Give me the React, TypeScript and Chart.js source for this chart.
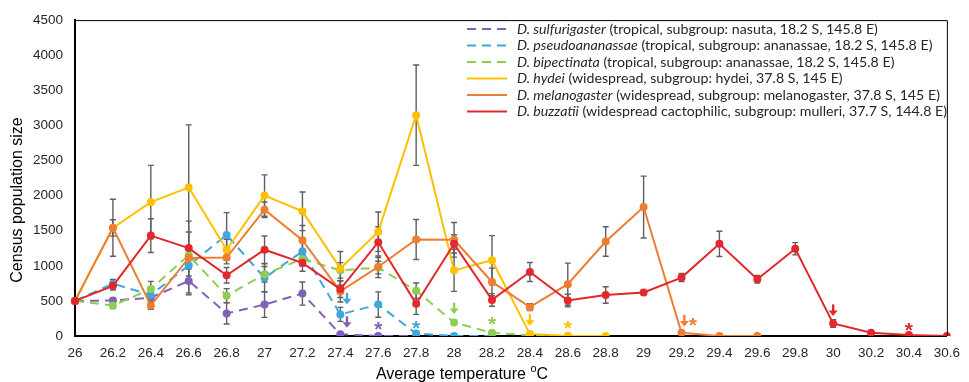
import React, { useEffect, useRef } from "react";
import { Chart, registerables } from "chart.js";

Chart.register(...registerables);

// ---------- DATA ----------
const temperatures = [
  "26", "26.2", "26.4", "26.6", "26.8", "27", "27.2", "27.4", "27.6", "27.8",
  "28", "28.2", "28.4", "28.6", "28.8", "29", "29.2", "29.4", "29.6", "29.8",
  "30", "30.2", "30.4", "30.6",
];

const sulfurigaster = [500, 505, 545, 785, 322, 448, 605, 25, 0, 0];
const pseudoananassae = [500, 745, 585, 1005, 1440, 828, 1206, 308, 448, 35, 0, 0];
const bipectinata = [500, 435, 668, 1150, 575, 879, 1098, 935, 975, 645, 192, 47, 10, 0];
const hydei = [500, 1540, 1907, 2117, 1229, 2000, 1776, 963, 1486, 3145, 935, 1080, 30, 0, 0];
const melanogaster = [500, 1542, 435, 1112, 1117, 1799, 1364, 635, 986, 1374, 1370, 771, 411, 738, 1346, 1837, 47, 0, 0];
const buzzatii = [500, 715, 1430, 1252, 865, 1229, 1042, 668, 1337, 458, 1313, 514, 911, 505, 584, 621, 832, 1313, 808, 1243, 178, 47, 14, 0];

// symmetric error (± value), null = no bar
const errSulfurigaster = [null, 40, 60, 170, 150, 183, 165, null, null, null];
const errPseudoananassae = [null, 60, 60, 150, 317, 200, 140, 100, 180, null, null, null];
const errBipectinata = [null, 45, 110, 130, 100, 110, 100, 110, 90, 110, null, null, null, null];
const errHydei = [null, 117, 523, 890, 150, 295, 275, 240, 280, 715, 300, 350, null, null, null];
const errMelanogaster = [null, 405, 55, 525, 90, 110, 210, 150, 154, 285, 247, 196, 50, 300, 210, 440, null, null, null];
const errBuzzatii = [null, 60, 240, 230, 110, 195, 120, 120, 220, 150, 130, 90, 135, 90, 117, null, 58, 180, 55, 87, 55, null, null, null];

const speciesNames = [
  "D. sulfurigaster",
  "D. pseudoananassae",
  "D. bipectinata",
  "D. hydei",
  "D. melanogaster",
  "D. buzzatii",
];
const speciesInfo = [
  " (tropical, subgroup: nasuta, 18.2 S, 145.8 E)",
  " (tropical, subgroup: ananassae, 18.2 S, 145.8 E)",
  " (tropical, subgroup: ananassae, 18.2 S, 145.8 E)",
  " (widespread, subgroup: hydei, 37.8 S, 145 E)",
  " (widespread, subgroup: melanogaster, 37.8 S, 145 E)",
  " (widespread cactophilic, subgroup: mulleri, 37.7 S, 144.8 E)",
];

// annotation symbols: temperature, value, symbol, series index
const markerTemps = [27.435, 27.435, 27.6, 27.8, 28.0, 28.2, 28.4, 28.6, 29.215, 29.26, 30.0, 30.4];
const markerValues = [530, 195, 135, 155, 390, 210, 225, 150, 215, 195, 365, 125];
const markerSymbols = ["arrow", "arrow", "*", "*", "arrow", "*", "arrow", "*", "arrow", "*", "arrow", "*"];
const markerSeries = [1, 0, 0, 1, 2, 2, 3, 3, 4, 4, 5, 5];

const yTicks = [0, 500, 1000, 1500, 2000, 2500, 3000, 3500, 4000, 4500];

// ---------- STYLE ----------
const seriesValues = [sulfurigaster, pseudoananassae, bipectinata, hydei, melanogaster, buzzatii];
const seriesErrors = [errSulfurigaster, errPseudoananassae, errBipectinata, errHydei, errMelanogaster, errBuzzatii];
const colors = ["#7f62b8", "#3fa7dc", "#8fcd50", "#ffc000", "#ed7d31", "#e3272b"];
const dashed = [true, true, true, false, false, false];
const FONT = "'Liberation Sans', Arial, sans-serif";

const pad = (arr: (number | null)[]) => {
  const out: (number | null)[] = [];
  for (let i = 0; i < temperatures.length; i++) out.push(i < arr.length ? arr[i] : null);
  return out;
};

const errorBarPlugin = {
  id: "errorBars",
  beforeDatasetsDraw(chart: any) {
    const { ctx, scales } = chart;
    const xs = scales.x;
    const ys = scales.y;
    ctx.save();
    ctx.strokeStyle = "#5f5f5f";
    ctx.lineWidth = 1.4;
    seriesErrors.forEach((errs, si) => {
      const vals = seriesValues[si];
      errs.forEach((e, i) => {
        if (e == null || vals[i] == null) return;
        const x = xs.getPixelForValue(i);
        const yTop = ys.getPixelForValue(vals[i] + e);
        const yBot = ys.getPixelForValue(Math.max(0, vals[i] - e));
        ctx.beginPath();
        ctx.moveTo(x, yTop);
        ctx.lineTo(x, yBot);
        ctx.moveTo(x - 3, yTop);
        ctx.lineTo(x + 3, yTop);
        ctx.moveTo(x - 3, yBot);
        ctx.lineTo(x + 3, yBot);
        ctx.stroke();
      });
    });
    ctx.restore();
  },
};

const decorPlugin = {
  id: "decor",
  afterDatasetsDraw(chart: any) {
    const { ctx, scales } = chart;
    const xs = scales.x;
    const ys = scales.y;
    ctx.save();
    markerTemps.forEach((t, k) => {
      const idx = (t - 26) / 0.2;
      const x = xs.getPixelForValue(idx);
      const y = ys.getPixelForValue(markerValues[k]);
      const c = colors[markerSeries[k]];
      ctx.fillStyle = c;
      if (markerSymbols[k] === "*") {
        ctx.textAlign = "center";
        ctx.textBaseline = "middle";
        ctx.font = "bold 21px " + FONT;
        ctx.fillText("*", x, y + 4);
      } else {
        // down arrow: shaft + triangular head
        ctx.fillRect(x - 1.2, y - 6, 2.4, 7);
        ctx.beginPath();
        ctx.moveTo(x - 4.5, y);
        ctx.lineTo(x + 4.5, y);
        ctx.lineTo(x, y + 5.5);
        ctx.closePath();
        ctx.fill();
      }
    });
    ctx.restore();
  },
  afterDraw(chart: any) {
    const { ctx, chartArea } = chart;
    ctx.save();
    // frame top/right
    ctx.strokeStyle = "#000";
    ctx.lineWidth = 1;
    ctx.beginPath();
    ctx.moveTo(chartArea.left, chartArea.top + 0.5);
    ctx.lineTo(chartArea.right + 0.5, chartArea.top + 0.5);
    ctx.lineTo(chartArea.right + 0.5, chartArea.bottom);
    ctx.stroke();

    // legend
    const lx0 = 467;
    const lx1 = 507;
    const tx = 517;
    const rowY = [29, 45.5, 62, 78.5, 95, 111.5];
    speciesNames.forEach((name, i) => {
      const y = rowY[i];
      ctx.strokeStyle = colors[i];
      ctx.lineWidth = 2;
      ctx.setLineDash(dashed[i] ? [9, 6] : []);
      ctx.beginPath();
      ctx.moveTo(lx0, y);
      ctx.lineTo(lx1, y);
      ctx.stroke();
      ctx.setLineDash([]);
      ctx.fillStyle = "#262626";
      ctx.textAlign = "left";
      ctx.textBaseline = "middle";
      ctx.font = "italic 14.2px Lato, sans-serif";
      ctx.fillText(name, tx, y);
      const w = ctx.measureText(name).width;
      ctx.font = "14.2px Lato, sans-serif";
      ctx.fillText(speciesInfo[i], tx + w, y);
    });

    // y axis title
    ctx.fillStyle = "#000";
    ctx.font = "16px " + FONT;
    ctx.textAlign = "center";
    ctx.textBaseline = "middle";
    ctx.save();
    ctx.translate(18, 200);
    ctx.rotate(-Math.PI / 2);
    ctx.fillText("Census population size", 0, 0);
    ctx.restore();

    // x axis title with superscript o
    const main = "Average temperature ";
    ctx.font = "16px " + FONT;
    const wMain = ctx.measureText(main).width;
    ctx.font = "11px " + FONT;
    const wSup = ctx.measureText("o").width;
    ctx.font = "16px " + FONT;
    const wC = ctx.measureText("C").width;
    const total = wMain + wSup + wC;
    let x = 462 - total / 2;
    const yT = 375;
    ctx.textAlign = "left";
    ctx.fillText(main, x, yT);
    x += wMain;
    ctx.font = "11px " + FONT;
    ctx.fillText("o", x, yT - 6);
    x += wSup;
    ctx.font = "16px " + FONT;
    ctx.fillText("C", x, yT);
    ctx.restore();
  },
};

export default function App() {
  const canvasRef = useRef<HTMLCanvasElement | null>(null);

  useEffect(() => {
    document.body.style.margin = "0";
    const canvas = canvasRef.current;
    if (!canvas) return;
    const datasets = seriesValues.map((vals, i) => ({
      label: speciesNames[i],
      data: pad(vals),
      borderColor: colors[i],
      backgroundColor: colors[i],
      pointBackgroundColor: colors[i],
      pointBorderColor: colors[i],
      pointBorderWidth: 0,
      pointRadius: 4,
      borderWidth: 2,
      borderDash: dashed[i] ? [9, 6] : [],
      tension: 0,
      spanGaps: false,
      order: 6 - i,
    }));
    const chart = new Chart(canvas, {
      type: "line",
      data: { labels: temperatures, datasets },
      options: {
        animation: false,
        responsive: true,
        maintainAspectRatio: false,
        events: [],
        layout: { padding: { top: 15, right: 14, left: 0, bottom: 0 } },
        plugins: { legend: { display: false }, tooltip: { enabled: false } },
        scales: {
          x: {
            type: "category",
            offset: false,
            grid: { display: false, drawTicks: false },
            border: { display: true, color: "#000", width: 2 },
            ticks: {
              color: "#262626",
              font: { family: FONT, size: 13.5 },
              padding: 9,
              maxRotation: 0,
              autoSkip: false,
            },
            afterFit: (s: any) => {
              s.height = 46;
            },
          },
          y: {
            min: 0,
            max: 4500,
            afterBuildTicks: (s: any) => {
              s.ticks = yTicks.map((v) => ({ value: v }));
            },
            grid: { display: false, drawTicks: false },
            border: { display: true, color: "#000", width: 2 },
            ticks: {
              color: "#262626",
              font: { family: FONT, size: 13.5 },
              padding: 12,
              callback: (v: any) => String(v),
            },
            afterFit: (s: any) => {
              s.width = 75;
            },
          },
        },
      },
      plugins: [errorBarPlugin, decorPlugin],
    });
    return () => chart.destroy();
  }, []);

  return (
    <div style={{ width: 969, height: 382, position: "relative" }}>
      <canvas ref={canvasRef} />
    </div>
  );
}
